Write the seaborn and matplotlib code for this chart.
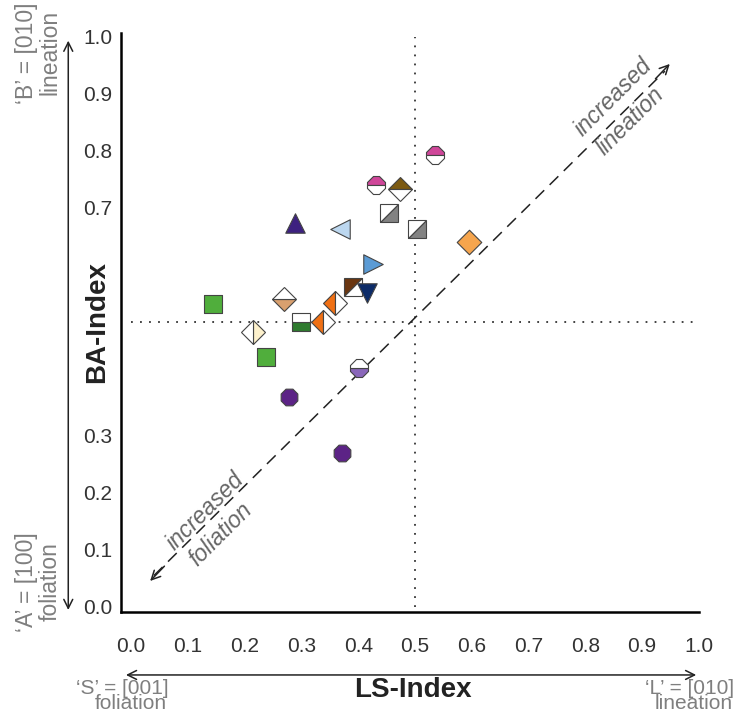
import matplotlib
matplotlib.use('Agg')
import matplotlib.pyplot as plt
from matplotlib.markers import MarkerStyle
from matplotlib.patches import FancyArrowPatch
from matplotlib.transforms import Affine2D
import seaborn as sns

# LS / BA index values
ls_index = [0.535, 0.431, 0.474, 0.454, 0.504, 0.595, 0.289, 0.368, 0.144, 0.269, 0.215,
            0.238, 0.299, 0.338, 0.359, 0.426, 0.391, 0.415, 0.401, 0.278, 0.371]
ba_index = [0.793, 0.740, 0.733, 0.691, 0.663, 0.640, 0.674, 0.663, 0.532, 0.540, 0.482,
            0.439, 0.500, 0.500, 0.533, 0.602, 0.561, 0.551, 0.419, 0.368, 0.270]

# marker shape, fill half and colours for each sample
shapes = ['8', '8', 'D', 'sq', 'sq', 'D', '^', '<', 's', 'D', 'D',
          's', 's', 'D', 'D', '>', 'sq', 'v', '8', '8', '8']
fills = ['top', 'top', 'top', 'bottom', 'bottom', 'full', 'full', 'full', 'full', 'bottom', 'right',
         'full', 'bottom', 'left', 'left', 'full', 'top', 'full', 'bottom', 'full', 'full']
colors = ['#cf4699', '#cf4699', '#7c5a12', '#828282', '#828282', '#f6a54d', '#3d2180', '#bcd7ef',
          '#50ae3c', '#d9a06f', '#fdf1cc', '#50ae3c', '#2f7b2f', '#f07014', '#f07014', '#5b9bd5',
          '#6a3611', '#0c2b68', '#8a67ba', '#5c2386', '#5c2386']
alt_colors = ['white'] * len(colors)

ticks = [0.0, 0.1, 0.2, 0.3, 0.4, 0.5, 0.6, 0.7, 0.8, 0.9, 1.0]
tick_labels = ['%.1f' % t for t in ticks]

sns.set_style('white')
plt.rcParams['font.family'] = ['Liberation Sans', 'DejaVu Sans']

fig = plt.figure(figsize=(7.42, 7.15), dpi=100)
ax = fig.add_axes([0.163, 0.144, 0.779, 0.81])
ax.set_xlim(-0.018, 1.0)
ax.set_ylim(-0.009, 1.007)

# guide lines at 0.5
ax.plot([0.5, 0.5], [0, 1.0], color='#333333', lw=1.3, linestyle=(0, (1, 4)), zorder=1)
ax.plot([0, 1.0], [0.5, 0.5], color='#333333', lw=1.3, linestyle=(0, (1, 4)), zorder=1)

# dashed diagonal with open arrow heads
ax.plot([0.04, 0.94], [0.055, 0.94], color='#222222', lw=1.1, linestyle=(0, (8, 5)), zorder=1)
ax.annotate('', xy=(0.952, 0.956), xytext=(0.92, 0.923),
            arrowprops=dict(arrowstyle='->', color='#222222', lw=1.1, mutation_scale=16))
ax.annotate('', xy=(0.03, 0.042), xytext=(0.062, 0.075),
            arrowprops=dict(arrowstyle='->', color='#222222', lw=1.1, mutation_scale=16))

diag_kw = dict(rotation=45, ha='center', va='center', style='italic', color='#666666',
               fontsize=16.5, rotation_mode='anchor')
ax.text(0.849, 0.895, 'increased', **diag_kw)
ax.text(0.879, 0.852, 'lineation', **diag_kw)
ax.text(0.130, 0.167, 'increased', **diag_kw)
ax.text(0.158, 0.128, 'foliation', **diag_kw)

# full markers through seaborn, half-filled ones through plot
for x, y, m, f, c, a in zip(ls_index, ba_index, shapes, fills, colors, alt_colors):
    if m == 'sq':
        mk = MarkerStyle('D', fillstyle=f, transform=Affine2D().rotate_deg(45))
        ms = 12.5
    else:
        mk = MarkerStyle(m, fillstyle=f)
        ms = 14 if m in '^<>v' else (13 if m == '8' else 12.5)
    if f == 'full':
        sns.scatterplot(x=[x], y=[y], marker=m, color=c, s=ms ** 2, edgecolor='#444444',
                        linewidth=0.8, ax=ax, zorder=3, legend=False)
    else:
        ax.plot(x, y, marker=mk, markersize=ms, markerfacecolor=c, markerfacecoloralt=a,
                markeredgecolor='#444444', markeredgewidth=0.8, linestyle='none', zorder=3)

ax.set_xticks(ticks)
ax.set_xticklabels(tick_labels)
ax.set_yticks(ticks)
ax.set_yticklabels(tick_labels)
ax.tick_params(axis='x', length=0, pad=18, labelsize=15, labelcolor='#333333')
ax.tick_params(axis='y', length=0, pad=6, labelsize=15, labelcolor='#333333')
sns.despine(ax=ax)
for side in ['left', 'bottom']:
    ax.spines[side].set_linewidth(1.8)
    ax.spines[side].set_color('black')

# axis arrows and end labels outside the plot
fig.add_artist(FancyArrowPatch((0.166, 0.056), (0.942, 0.056), transform=fig.transFigure,
                               arrowstyle='<->', mutation_scale=16, lw=1.1, color='#222222'))
fig.add_artist(FancyArrowPatch((0.092, 0.143), (0.092, 0.947), transform=fig.transFigure,
                               arrowstyle='<->', mutation_scale=16, lw=1.1, color='#222222'))

gray = '#7f7f7f'
fig.text(0.557, 0.035, 'LS-Index', ha='center', va='center', fontsize=20, fontweight='bold', color='#222222')
# the axis title sits over the middle y tick labels, on a white box as in the source figure
fig.text(0.131, 0.55, 'BA-Index', ha='center', va='center', fontsize=20, fontweight='bold',
         color='#222222', rotation=90, zorder=5,
         bbox=dict(facecolor='white', edgecolor='none', pad=5))

fig.text(0.165, 0.029, '‘S’ = [001]', ha='center', va='baseline', fontsize=15, color=gray)
fig.text(0.176, 0.008, 'foliation', ha='center', va='baseline', fontsize=15, color=gray)
fig.text(0.99, 0.029, '‘L’ = [010]', ha='right', va='baseline', fontsize=15, color=gray)
fig.text(0.988, 0.008, 'lineation', ha='right', va='baseline', fontsize=15, color=gray)

fig.text(0.036, 0.926, '‘B’ = [010]', ha='center', va='center', fontsize=16.5, color=gray, rotation=90)
fig.text(0.067, 0.926, 'lineation', ha='center', va='center', fontsize=16.5, color=gray, rotation=90)
fig.text(0.036, 0.186, '‘A’ = [100]', ha='center', va='center', fontsize=16.5, color=gray, rotation=90)
fig.text(0.067, 0.186, 'foliation', ha='center', va='center', fontsize=16.5, color=gray, rotation=90)

fig.savefig('out.png', dpi=100)
